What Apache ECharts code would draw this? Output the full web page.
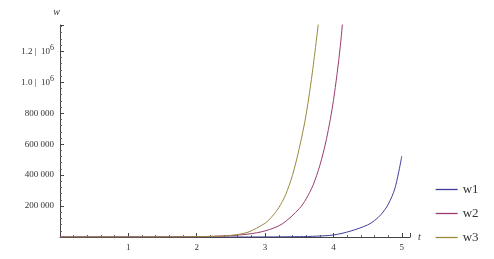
<!DOCTYPE html>
<html><head><meta charset="utf-8">
<script src="https://cdn.jsdelivr.net/npm/echarts@6/dist/echarts.min.js"></script>
<style>html,body{margin:0;padding:0;background:#fff}#c{width:494px;height:259px}</style>
</head><body><div id="c"></div>
<script>
// Data
const w1T = [0, 2, 3, 3.5, 3.75, 4, 4.25, 4.5, 4.6, 4.7, 4.8, 4.9, 5.0];
const w1V = [0, 20, 400, 2250, 5400, 13000, 38000, 78000, 106000, 147000, 210000, 315000, 522000];
const w2T = [0, 1, 1.5, 2, 2.5, 2.75, 3, 3.25, 3.5, 3.6, 3.7, 3.8, 3.9, 4.0, 4.1, 4.2];
const w2V = [0, 100, 450, 2000, 8900, 18900, 39300, 84500, 183000, 246000, 333000, 461000, 637000, 882000, 1231000, 1725000];
const w3T = [0, 1, 1.5, 2, 2.25, 2.5, 2.75, 3.0, 3.1, 3.2, 3.3, 3.4, 3.5, 3.6, 3.7, 3.8];
const w3V = [0, 50, 300, 1700, 4200, 10500, 31000, 89000, 131000, 189000, 273000, 398000, 573000, 790000, 1091000, 1458000];
const xTickLabels = {1:'1', 2:'2', 3:'3', 4:'4', 5:'5'};
const yTickLabels = {200000:'200 000', 400000:'400 000', 600000:'600 000', 800000:'800 000', 1000000:'1.0', 1200000:'1.2'};
const seriesNames = ['w1', 'w2', 'w3'];
const colors = ['#3f3d99', '#993d71', '#998b3d'];

const zip = (a, b) => a.map((v, i) => [v, b[i]]);
const serif = '"Liberation Serif", "DejaVu Serif", serif';
const chart = echarts.init(document.getElementById('c'));
chart.setOption({
  animation: false,
  grid: {left: 60, right: 84, top: 25, bottom: 22, containLabel: false},
  legend: {
    orient: 'vertical', left: 430, top: 178, itemGap: 11, itemWidth: 22, itemHeight: 14,
    textStyle: {fontFamily: serif, fontSize: 13, color: '#333'},
    itemStyle: {color: 'rgba(0,0,0,0)', borderColor: 'rgba(0,0,0,0)', borderWidth: 0},
    lineStyle: {width: 1.3, color: 'inherit'},
    data: seriesNames
  },
  xAxis: {
    type: 'value', min: 0, max: 5.12, interval: 1,
    name: 't', nameLocation: 'end', nameGap: 8,
    nameTextStyle: {fontFamily: serif, fontStyle: 'italic', fontSize: 10, color: '#333'},
    axisLine: {show: true, onZero: true, lineStyle: {color: '#444', width: 1}},
    axisTick: {show: true, inside: true, length: 4, lineStyle: {color: '#444'}},
    minorTick: {show: true, splitNumber: 5, length: 2, lineStyle: {color: '#666'}},
    splitLine: {show: false},
    axisLabel: {fontFamily: serif, fontSize: 9, color: '#333', margin: 6,
      formatter: v => (Number.isInteger(v) && xTickLabels[v]) || ''}
  },
  yAxis: {
    type: 'value', min: 0, max: 1370000, interval: 200000,
    name: 'w', nameLocation: 'end', nameGap: 8,
    nameTextStyle: {fontFamily: serif, fontStyle: 'italic', fontSize: 10, color: '#333', align: 'right'},
    axisLine: {show: true, lineStyle: {color: '#444', width: 1}},
    axisTick: {show: true, inside: true, length: 4, lineStyle: {color: '#444'}},
    minorTick: {show: true, splitNumber: 5, length: 2, lineStyle: {color: '#666'}},
    splitLine: {show: false},
    axisLabel: {fontFamily: serif, fontSize: 9, color: '#333', margin: 6,
      formatter: v => {
        const l = yTickLabels[v];
        if (!l) return '';
        if (v >= 1000000) return '{a|' + l + ' |  10}{s|6}';
        return l;
      },
      rich: {
        a: {fontFamily: serif, fontSize: 9, color: '#333'},
        s: {fontFamily: serif, fontSize: 8, color: '#333', padding: [0, 0, 6, 0]}
      }
    }
  },
  series: [
    {name: seriesNames[0], type: 'line', data: zip(w1T, w1V), smooth: 0.3, symbol: 'none', clip: true,
     lineStyle: {color: colors[0], width: 1}, itemStyle: {color: colors[0]}},
    {name: seriesNames[1], type: 'line', data: zip(w2T, w2V), smooth: 0.3, symbol: 'none', clip: true,
     lineStyle: {color: colors[1], width: 1}, itemStyle: {color: colors[1]}},
    {name: seriesNames[2], type: 'line', data: zip(w3T, w3V), smooth: 0.3, symbol: 'none', clip: true,
     lineStyle: {color: colors[2], width: 1}, itemStyle: {color: colors[2]}}
  ]
});
</script></body></html>
